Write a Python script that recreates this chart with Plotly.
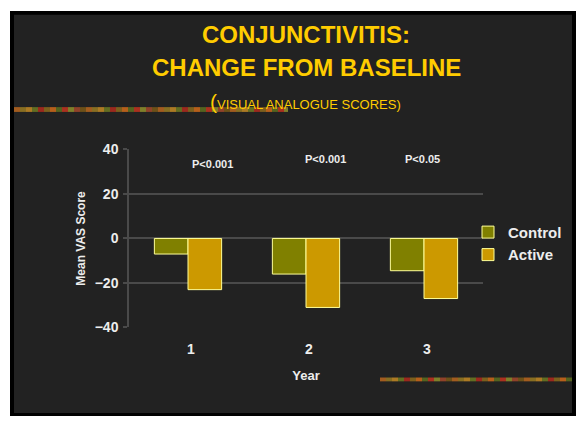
import plotly.graph_objects as go

# --- data -------------------------------------------------------------
years = [1, 2, 3]
control = [-7, -16, -14.5]
active = [-23, -31, -27]
p_labels = ["P<0.001", "P<0.001", "P<0.05"]
y_ticks = [-40, -20, 0, 20, 40]

# --- page geometry helpers (pixel -> paper fraction) ---------------------
W, H = 579, 424


def fx(x):
    return x / W


def fy(y):
    return 1 - y / H


FONT = "Liberation Sans, Arial, sans-serif"
GOLD = "#FFCC00"
TEXT = "#EDEDED"
GRID = "#4A4A4A"
PANEL = "#222222"

fig = go.Figure()

fig.add_trace(go.Bar(
    x=years, y=control, name="Control",
    marker=dict(color="#808000", line=dict(color="#FFFF99", width=1)),
))
fig.add_trace(go.Bar(
    x=years, y=active, name="Active",
    marker=dict(color="#CC9900", line=dict(color="#FFFF99", width=1)),
))

shapes = [
    # slide frame: black border around a dark panel
    dict(type="rect", xref="paper", yref="paper", layer="below",
         x0=fx(10), x1=fx(576), y0=fy(424), y1=fy(3),
         fillcolor="#000000", line=dict(width=0)),
    dict(type="rect", xref="paper", yref="paper", layer="below",
         x0=fx(14), x1=fx(572), y0=fy(421), y1=fy(7),
         fillcolor=PANEL, line=dict(width=0)),
]

# textured decorative stripes (cycled warm palette)
stripe_palette = ["#B8661E", "#8C6A1C", "#A3482A", "#6E7A22", "#C2341F",
                  "#9A7B22", "#D06A1A", "#7A5816", "#B02A1C", "#8F8F2C",
                  "#C48A24", "#5E6E1E"]


def stripe(x_start, x_end, y_top, y_bot, seg=6):
    out = []
    x, i = x_start, 0
    while x < x_end:
        out.append(dict(type="rect", xref="paper", yref="paper", layer="below",
                        x0=fx(x), x1=fx(min(x + seg, x_end)),
                        y0=fy(y_bot), y1=fy(y_top),
                        fillcolor=stripe_palette[(i * 5) % len(stripe_palette)],
                        opacity=0.85, line=dict(width=0)))
        x += seg
        i += 1
    return out


shapes += stripe(14, 288, 103, 108)
shapes += stripe(380, 572, 384, 388)

annotations = [
    dict(text="<b>CONJUNCTIVITIS:</b>", xref="paper", yref="paper",
         x=fx(306), y=fy(28), xanchor="center", yanchor="middle",
         showarrow=False, font=dict(family=FONT, size=24, color=GOLD)),
    dict(text="<b>CHANGE FROM BASELINE</b>", xref="paper", yref="paper",
         x=fx(306), y=fy(62), xanchor="center", yanchor="middle",
         showarrow=False, font=dict(family=FONT, size=24, color=GOLD)),
    dict(text="<span style='font-size:21px'>(</span>VISUAL ANALOGUE SCORES)",
         xref="paper", yref="paper", x=fx(305), y=fy(97),
         xanchor="center", yanchor="middle", showarrow=False,
         font=dict(family=FONT, size=13, color=GOLD)),
]

# significance labels above each year group
p_xshift = [24, 19, -2]
p_yshift = [0, 5, 5]
for yr, lab, dx, dy in zip(years, p_labels, p_xshift, p_yshift):
    annotations.append(dict(
        text=f"<b>{lab}</b>", x=yr, y=33.5, xref="x", yref="y",
        xshift=dx, yshift=dy, showarrow=False,
        font=dict(family=FONT, size=11, color=TEXT)))

fig.update_layout(
    width=W, height=H,
    margin=dict(l=0, r=0, t=0, b=0),
    paper_bgcolor="#FFFFFF",
    plot_bgcolor="rgba(0,0,0,0)",
    barmode="group",
    bargap=0.43,
    bargroupgap=0,
    shapes=shapes,
    annotations=annotations,
    showlegend=True,
    legend=dict(
        x=fx(468), y=fy(216), xanchor="left", yanchor="top",
        bgcolor="rgba(0,0,0,0)",
        font=dict(family=FONT, size=15, color=TEXT, weight="bold"),
        tracegroupgap=0,
    ),
    xaxis=dict(
        domain=[fx(129), fx(483)],
        range=[0.5, 3.5],
        tickvals=years,
        ticktext=[str(y) for y in years],
        showgrid=False, zeroline=False, showline=False,
        ticks="",
        ticklabelstandoff=12,
        ticklabelshift=3,
        tickfont=dict(family=FONT, size=14, color=TEXT, weight="bold"),
        title=dict(text="Year", standoff=14,
                   font=dict(family=FONT, size=13, color=TEXT, weight="bold")),
    ),
    yaxis=dict(
        domain=[fy(332), fy(147)],
        range=[-40, 40],
        tickvals=y_ticks,
        showgrid=True, gridcolor=GRID, gridwidth=1.5,
        zeroline=False,
        showline=True, linecolor=GRID, linewidth=1.5,
        ticks="outside", ticklen=4, tickcolor=GRID, tickwidth=1.5,
        ticklabelstandoff=2,
        tickfont=dict(family=FONT, size=14, color=TEXT, weight="bold"),
        title=dict(text="Mean VAS Score", standoff=6,
                   font=dict(family=FONT, size=12, color=TEXT, weight="bold")),
    ),
)

fig.write_html("out.html")
